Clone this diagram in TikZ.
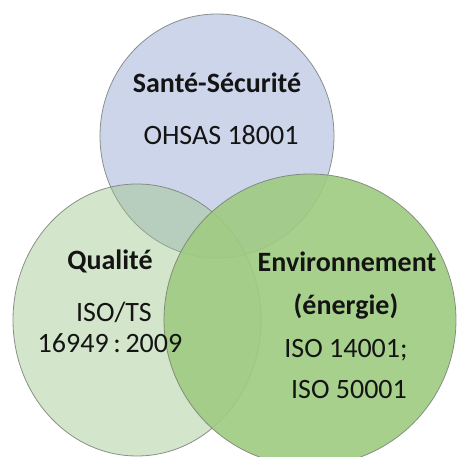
\documentclass[tikz,border=0pt]{standalone}
\usepackage{fontspec}
\setmainfont{Carlito}
\usetikzlibrary{shapes.geometric}
\definecolor{bluefill}{RGB}{205,213,234}
\definecolor{leftfill}{RGB}{155,196,135}
\definecolor{rightfill}{RGB}{159,203,129}
\definecolor{edgecol}{RGB}{120,128,120}
\definecolor{txt}{RGB}{20,20,20}
\tikzset{
  venn/.style={ellipse, inner sep=0pt, draw=edgecol, line width=0.8pt, draw opacity=0.85},
  title/.style={anchor=base, font=\fontsize{28}{32}\selectfont\bfseries, text=txt, inner sep=0pt},
  std/.style={anchor=base, font=\fontsize{28}{32}\selectfont, text=txt, inner sep=0pt}
}
\begin{document}
\begin{tikzpicture}[x=1pt,y=-1pt]
\useasboundingbox (0,0) rectangle (459,457);
\node[venn, fill=bluefill, minimum width=234pt, minimum height=244pt] (top) at (217,136) {};
\node[venn, fill=leftfill, fill opacity=0.44, minimum width=248pt, minimum height=272pt] (left) at (137,320) {};
\node[venn, fill=rightfill, fill opacity=0.9, minimum width=292pt, minimum height=292pt] (right) at (310,320) {};
\node[title] (t1) at (217,93) {Santé-Sécurité};
\node[std] (t2) at (221,145) {OHSAS 18001};
\node[title] (l1) at (110,270) {Qualité};
\node[std] (l2) at (114,322) {ISO/TS};
\node[std] (l3) at (110,353) {16949\,:\,2009};
\node[title] (r1) at (347,272) {Environnement};
\node[title] (r2) at (346,315) {(énergie)};
\node[std] (r3) at (346,358) {ISO 14001;};
\node[std] (r4) at (349,399) {ISO 50001};
\end{tikzpicture}
\end{document}
